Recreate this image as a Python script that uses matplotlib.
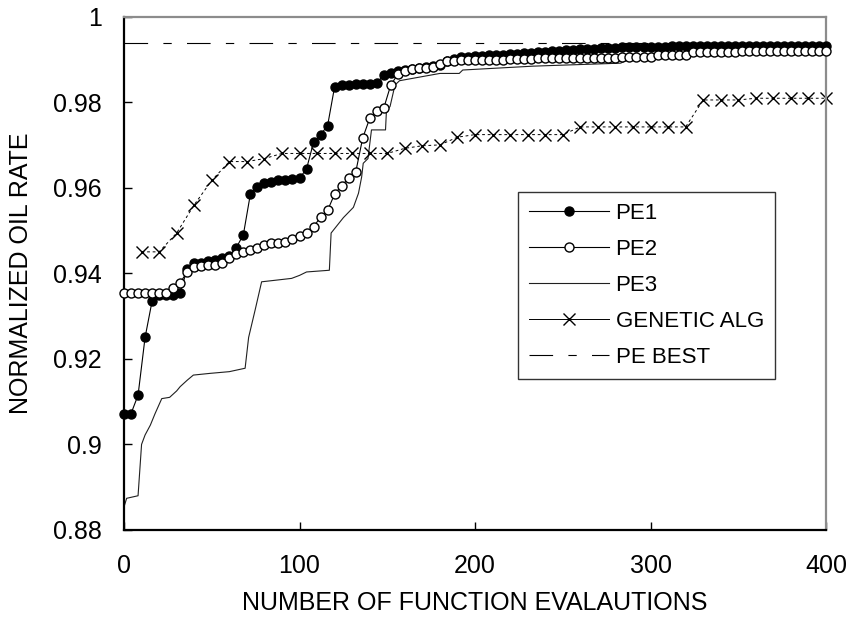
"""Convergence of PE runs versus genetic algorithm (normalized oil rate)."""
import matplotlib

matplotlib.use("Agg")
import matplotlib.pyplot as plt

plt.rcParams["font.family"] = ["Liberation Sans", "DejaVu Sans"]
plt.rcParams["lines.scale_dashes"] = False

# Data
pe1_x = [0, 4, 8, 12, 16, 20, 24, 28, 32, 36, 40, 44, 48, 52, 56, 60, 64, 68,
         72, 76, 80, 84, 88, 92, 96, 100, 104, 108, 112, 116, 120, 124, 128,
         132, 136, 140, 144, 148, 152, 156, 160, 164, 168, 172, 176, 180, 184,
         188, 192, 196, 200, 204, 208, 212, 216, 220, 224, 228, 232, 236, 240,
         244, 248, 252, 256, 260, 264, 268, 272, 276, 280, 284, 288, 292, 296,
         300, 304, 308, 312, 316, 320, 324, 328, 332, 336, 340, 344, 348, 352,
         356, 360, 364, 368, 372, 376, 380, 384, 388, 392, 396, 400]
pe1_y = [0.9072, 0.9072, 0.9115, 0.9250, 0.9335, 0.9350, 0.9350, 0.9350,
         0.9355, 0.9410, 0.9425, 0.9425, 0.9428, 0.9430, 0.9435, 0.9440,
         0.9460, 0.9490, 0.9585, 0.9602, 0.9610, 0.9613, 0.9617, 0.9618,
         0.9620, 0.9622, 0.9644, 0.9706, 0.9724, 0.9745, 0.9836, 0.9840,
         0.9840, 0.9842, 0.9842, 0.9843, 0.9845, 0.9863, 0.9868, 0.9872,
         0.9876, 0.9878, 0.9880, 0.9883, 0.9885, 0.9887, 0.9895, 0.9900,
         0.9905, 0.9906, 0.9907, 0.9908, 0.9909, 0.9910, 0.9911, 0.9912,
         0.9913, 0.9914, 0.9915, 0.9917, 0.9918, 0.9919, 0.9920, 0.9921,
         0.9922, 0.9923, 0.9924, 0.9925, 0.9926, 0.9926, 0.9927, 0.9928,
         0.9928, 0.9928, 0.9929, 0.9929, 0.9929, 0.9929, 0.9930, 0.9930,
         0.9930, 0.9930, 0.9930, 0.9930, 0.9931, 0.9931, 0.9931, 0.9931,
         0.9931, 0.9931, 0.9931, 0.9932, 0.9932, 0.9932, 0.9932, 0.9932,
         0.9932, 0.9932, 0.9932, 0.9932, 0.9932]

pe2_x = pe1_x
pe2_y = [0.9354, 0.9354, 0.9354, 0.9354, 0.9354, 0.9354, 0.9354, 0.9366,
         0.9378, 0.9403, 0.9415, 0.9418, 0.9420, 0.9420, 0.9425, 0.9435,
         0.9446, 0.9450, 0.9455, 0.9458, 0.9465, 0.9470, 0.9470, 0.9472,
         0.9480, 0.9488, 0.9495, 0.9508, 0.9532, 0.9547, 0.9585, 0.9605,
         0.9622, 0.9636, 0.9716, 0.9762, 0.9780, 0.9786, 0.9840, 0.9865,
         0.9873, 0.9878, 0.9880, 0.9880, 0.9881, 0.9888, 0.9895, 0.9897,
         0.9898, 0.9898, 0.9898, 0.9899, 0.9899, 0.9899, 0.9899, 0.9900,
         0.9900, 0.9900, 0.9900, 0.9903, 0.9903, 0.9903, 0.9903, 0.9903,
         0.9903, 0.9903, 0.9903, 0.9903, 0.9903, 0.9903, 0.9903, 0.9905,
         0.9905, 0.9905, 0.9905, 0.9905, 0.9910, 0.9910, 0.9910, 0.9910,
         0.9910, 0.9916, 0.9918, 0.9918, 0.9918, 0.9918, 0.9918, 0.9918,
         0.9919, 0.9919, 0.9919, 0.9919, 0.9920, 0.9920, 0.9920, 0.9920,
         0.9920, 0.9920, 0.9920, 0.9920, 0.9920]

pe3_x = [0, 1.5, 8, 10, 12, 15, 17.7, 21.5, 26, 30, 32, 36, 39.5, 49, 60, 69,
         71, 74.7, 78.4, 87, 95.5, 100, 104, 117, 118, 125, 130.7, 133.6,
         135.4, 136.3, 139, 141, 149, 149.5, 151.6, 154.4, 157, 180, 191, 193,
         233, 283, 290, 300, 350, 400]
pe3_y = [0.8854, 0.8874, 0.8880, 0.9000, 0.9022, 0.9045, 0.9072, 0.9107,
         0.9110, 0.9125, 0.9135, 0.9150, 0.9162, 0.9166, 0.9170, 0.9178,
         0.9250, 0.9314, 0.9380, 0.9384, 0.9388, 0.9395, 0.9403, 0.9407,
         0.9494, 0.9530, 0.9554, 0.9587, 0.9625, 0.9657, 0.9668, 0.9735,
         0.9735, 0.9778, 0.9790, 0.9840, 0.9850, 0.9867, 0.9867, 0.9875,
         0.9884, 0.9891, 0.9905, 0.9910, 0.9920, 0.9925]

ga_x = [10, 20, 30, 40, 50, 60, 70, 80, 90, 100, 110, 120, 130, 140, 150,
        160, 170, 180, 190, 200, 210, 220, 230, 240, 250, 260, 270, 280, 290,
        300, 310, 320, 330, 340, 350, 360, 370, 380, 390, 400]
ga_y = [0.9450, 0.9450, 0.9494, 0.9560, 0.9617, 0.9661, 0.9661, 0.9668,
        0.9680, 0.9680, 0.9680, 0.9680, 0.9680, 0.9680, 0.9680, 0.9692,
        0.9698, 0.9700, 0.9718, 0.9724, 0.9724, 0.9724, 0.9724, 0.9724,
        0.9724, 0.9742, 0.9742, 0.9742, 0.9742, 0.9742, 0.9742, 0.9742,
        0.9805, 0.9805, 0.9805, 0.9809, 0.9809, 0.9809, 0.9809, 0.9809]

best_x = [0, 400]
best_y = [0.9938, 0.9938]

# Create figure
fig = plt.figure(figsize=(8.5, 6.26), dpi=100)
ax = fig.add_axes([0.1459, 0.1534, 0.8259, 0.8202])

# Plot data
ax.plot(pe1_x, pe1_y, color="black", lw=0.8, marker="o", ms=6.5,
        mfc="black", mec="black", label="PE1", zorder=3, clip_on=False)
ax.plot(pe2_x, pe2_y, color="black", lw=0.8, marker="o", ms=6.5,
        mfc="white", mec="black", mew=1.0, label="PE2", zorder=4,
        clip_on=False)
ax.plot(pe3_x, pe3_y, color="#202020", lw=0.8, label="PE3", zorder=2)
ax.plot(ga_x, ga_y, color="black", lw=0.7, ls=(0, (2, 2)), marker="x",
        ms=8, mew=1.0, label="GENETIC ALG", zorder=2, clip_on=False)
ax.plot(best_x, best_y, color="black", lw=0.8, ls=(0, (17, 11, 6, 11)),
        label="PE BEST", zorder=1)

# Limits and ticks
ax.set_xlim(0, 400)
ax.set_ylim(0.88, 1.0)
ax.set_xticks([0, 100, 200, 300, 400])
ax.set_yticks([0.88, 0.9, 0.92, 0.94, 0.96, 0.98, 1.0])
ax.set_yticklabels(["0.88", "0.9", "0.92", "0.94", "0.96", "0.98", "1"])
ax.tick_params(axis="x", direction="in", length=6, width=1, pad=17,
               labelsize=18, top=False)
ax.tick_params(axis="y", direction="in", length=6, width=1, pad=16,
               labelsize=18, right=False)

# Frame: dark left/bottom, grey top/right
for side in ["left", "bottom"]:
    ax.spines[side].set_color("black")
    ax.spines[side].set_linewidth(1.6)
for side in ["top", "right"]:
    ax.spines[side].set_color("#8c8c8c")
    ax.spines[side].set_linewidth(1.6)

# Labels
ax.set_xlabel("NUMBER OF FUNCTION EVALAUTIONS", fontsize=18, labelpad=10)
ax.set_ylabel("NORMALIZED OIL RATE", fontsize=18, labelpad=14)

# Legend
leg = ax.legend(loc="upper left", bbox_to_anchor=(0.561, 0.658),
                fontsize=16, frameon=True, fancybox=False, handlelength=3.6,
                handletextpad=0.3, labelspacing=0.67, borderpad=0.5,
                borderaxespad=0)
leg.get_frame().set_edgecolor("black")
leg.get_frame().set_linewidth(1.0)
# GA sample in the legend is drawn solid in the reference
leg.get_lines()[3].set_linestyle("-")

plt.savefig("out.png", dpi=100)
